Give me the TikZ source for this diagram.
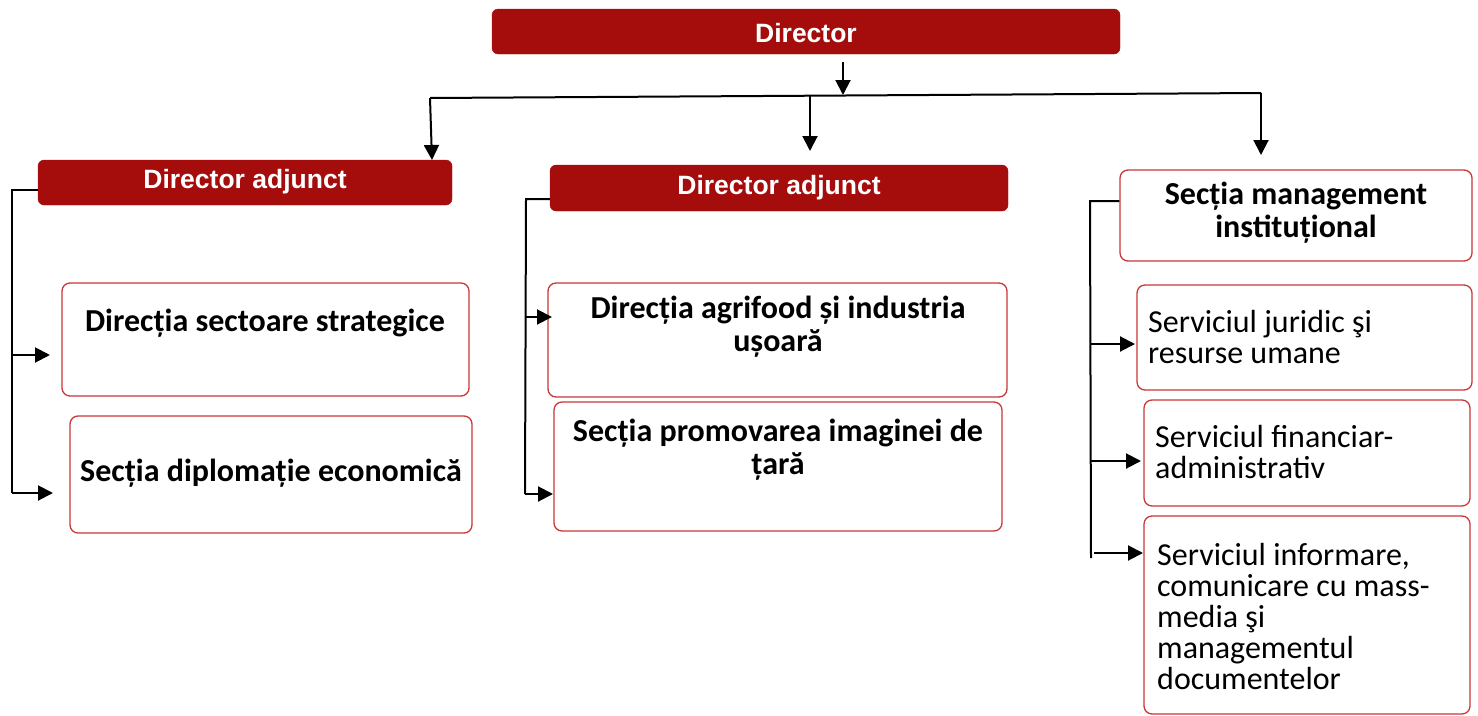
\documentclass[tikz,border=0pt]{standalone}
\usepackage{fontspec}
\setmainfont{Carlito}
\newfontfamily\arialf{Liberation Sans}
\usetikzlibrary{arrows.meta}
\definecolor{dred}{RGB}{165,13,13}
\definecolor{bred}{RGB}{200,55,55}
\begin{document}
\begin{tikzpicture}[x=1pt,y=-1pt,
  redbox/.style={draw=dred, fill=dred, rounded corners=6pt, inner sep=0pt},
  whitebox/.style={draw=bred, line width=1.3pt, rounded corners=8pt, inner sep=0pt, fill=white},
  conn/.style={line width=2pt, black},
  arr/.style={conn, -{Triangle[length=15pt,width=15pt]}},
  wtitle/.style={font=\arialf\bfseries\fontsize{26.5}{30}\selectfont, text=white, inner sep=0pt},
  btitle/.style={font=\bfseries\fontsize{32}{33}\selectfont, align=center, inner sep=0pt},
  stext/.style={font=\fontsize{32}{31}\selectfont, align=left, anchor=west, inner sep=0pt},
]
\useasboundingbox (0,0) rectangle (1478,715);
% boxes
\node[redbox, minimum width=628pt, minimum height=45pt] (dir) at (806,31.5) {};
\node[redbox, minimum width=414pt, minimum height=45pt] (da1) at (245,182.5) {};
\node[redbox, minimum width=458pt, minimum height=46pt] (da2) at (779,188) {};
\node[whitebox, minimum width=352pt, minimum height=91pt] (smi) at (1296,215.5) {};
\node[whitebox, minimum width=407pt, minimum height=113pt] (dss) at (265.5,339.5) {};
\node[whitebox, minimum width=402pt, minimum height=117pt] (sde) at (271,474.5) {};
\node[whitebox, minimum width=459pt, minimum height=114pt] (daiu) at (777.5,340) {};
\node[whitebox, minimum width=448pt, minimum height=129pt] (spid) at (778,466.5) {};
\node[whitebox, minimum width=335pt, minimum height=105pt] (sj) at (1304.5,337.5) {};
\node[whitebox, minimum width=326pt, minimum height=106pt] (sfa) at (1307,453) {};
\node[whitebox, minimum width=326pt, minimum height=198pt] (si) at (1307,615) {};
% texts
\node[wtitle] (dirt) at (806,33) {Director};
\node[wtitle] (da1t) at (245,182) {Director adjunct};
\node[wtitle] (da2t) at (779,188) {Director adjunct};
\node[btitle] (smit) at (1296,213) {Secția management\\instituțional};
\node[btitle] (dsst) at (265,323) {Direcția sectoare strategice};
\node[btitle] (sdet) at (271,473) {Secția diplomație economică};
\node[btitle] (daiut) at (778,327) {Direcția agrifood și industria\\ușoară};
\node[btitle] (spidt) at (778,450) {Secția promovarea imaginei de\\țară};
\node[stext] (sjt) at (1148,337) {Serviciul juridic şi\\resurse umane};
\node[stext] (sfat) at (1155,452) {Serviciul financiar-\\administrativ};
\node[stext] (sit) at (1157,616) {Serviciul informare,\\comunicare cu mass-\\media şi\\managementul\\documentelor};
% top connectors
\coordinate (d0) at (843,62);
\coordinate (bm) at (843,95);
\coordinate (bl) at (430,98);
\coordinate (bc) at (810,96);
\coordinate (br) at (1261,93);
\draw[arr] (d0) -- (bm);
\draw[conn] (bl) -- (br);
\draw[arr] (bl) -- (432,160);
\draw[arr] (bc) -- (810,151);
\draw[arr] (br) -- (1261,155);
% left bracket
\coordinate (l0) at (12,190);
\draw[conn] (da1.west |- l0) -- (l0) -- (12,493);
\draw[arr] (13,355) -- (50,355);
\draw[arr] (12,493) -- (53,493);
% middle bracket
\coordinate (m0) at (526,199);
\draw[conn] (da2.west |- m0) -- (m0) -- (525,494);
\draw[arr] (526,317) -- (552,317);
\draw[arr] (525,494) -- (553,494);
% right bracket
\coordinate (r0) at (1090,201);
\draw[conn] (smi.west |- r0) -- (r0) -- (1091,558);
\draw[arr] (1091,344) -- (1135,344);
\draw[arr] (1091,461) -- (1141,461);
\draw[arr] (1094,553) -- (1143,553);
\end{tikzpicture}
\end{document}
